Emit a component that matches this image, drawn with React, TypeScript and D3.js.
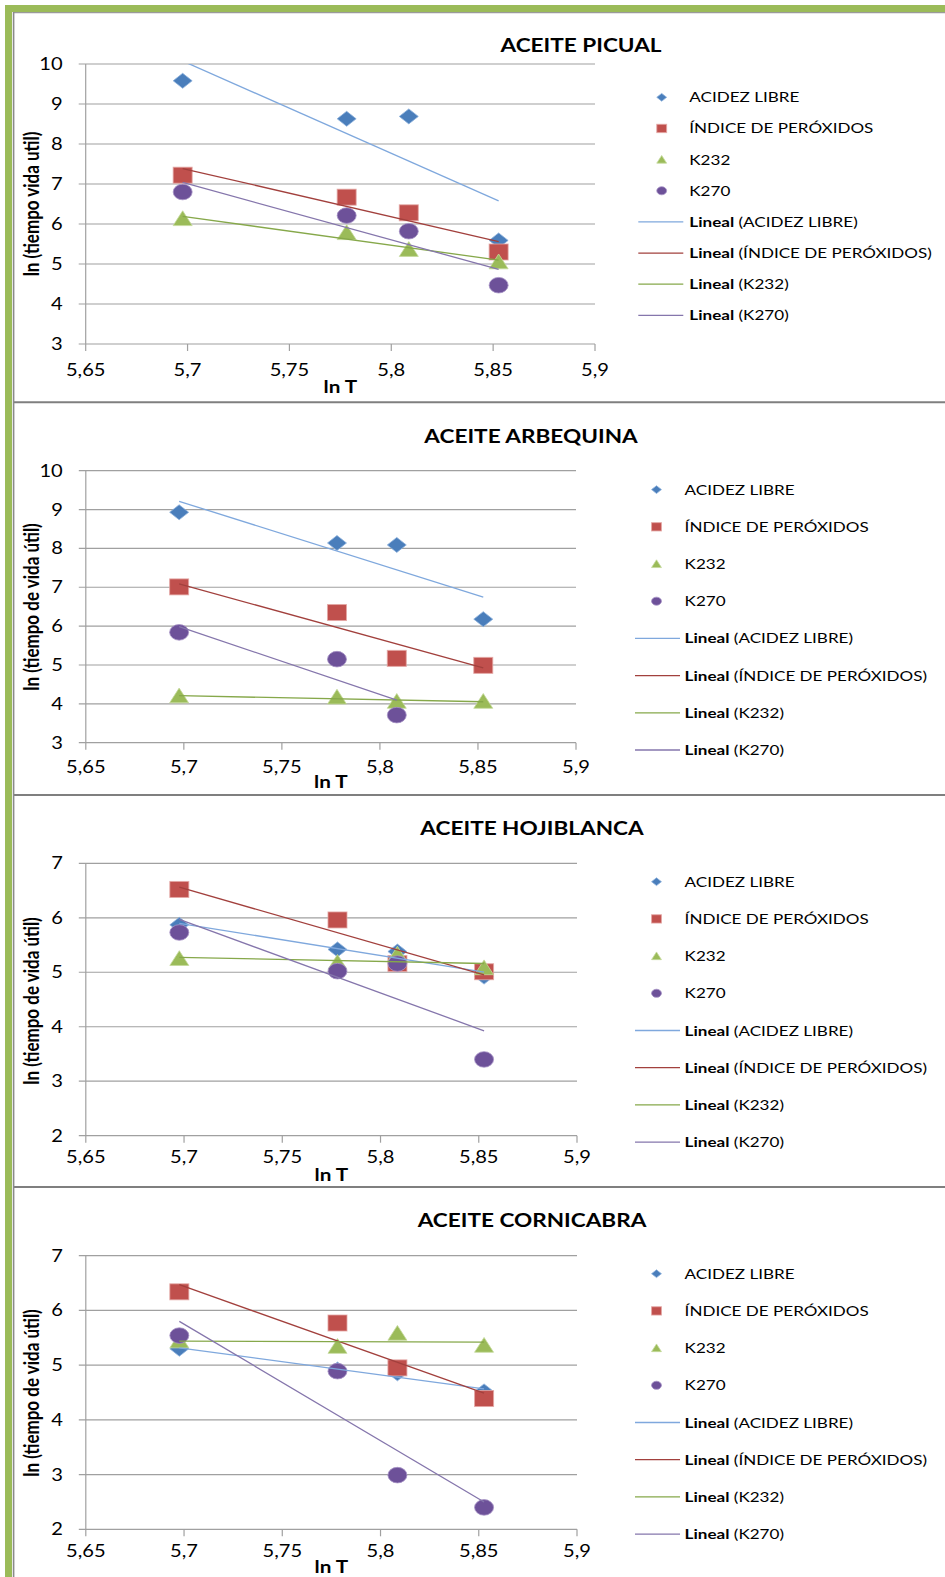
import React from "react";
import * as d3 from "d3";

// ln T (temperatures 25, 50, 60 and 75 °C in kelvin, log scale)
const LN_T = [5.6976, 5.7781, 5.8086, 5.8527];

const SERIES_NAMES = ["ACIDEZ LIBRE", "ÍNDICE DE PERÓXIDOS", "K232", "K270"];

// ln (shelf life) per oil and parameter, one value per ln T (null = no measure)
const PICUAL_ACIDEZ = [9.58, 8.63, 8.69, 5.59];
const PICUAL_PEROXIDOS = [7.22, 6.67, 6.28, 5.3];
const PICUAL_K232 = [6.13, 5.78, 5.36, 5.05];
const PICUAL_K270 = [6.8, 6.21, 5.82, 4.47];

const ARBEQUINA_ACIDEZ = [8.93, 8.14, 8.09, 6.18];
const ARBEQUINA_PEROXIDOS = [7.01, 6.35, 5.17, 4.99];
const ARBEQUINA_K232 = [4.2, 4.17, 4.06, 4.06];
const ARBEQUINA_K270 = [5.84, 5.15, 3.71, null];

const HOJIBLANCA_ACIDEZ = [5.87, 5.42, 5.38, 4.92];
const HOJIBLANCA_PEROXIDOS = [6.52, 5.96, 5.16, 5.01];
const HOJIBLANCA_K232 = [5.25, 5.18, 5.33, 5.08];
const HOJIBLANCA_K270 = [5.73, 5.02, 5.16, 3.4];

const CORNICABRA_ACIDEZ = [5.3, 4.92, 4.85, 4.52];
const CORNICABRA_PEROXIDOS = [6.34, 5.77, 4.95, 4.39];
const CORNICABRA_K232 = [5.44, 5.34, 5.58, 5.36];
const CORNICABRA_K270 = [5.54, 4.89, 2.99, 2.4];

const X_TICKS = [5.65, 5.7, 5.75, 5.8, 5.85, 5.9];

const OILS = [
  { title: "ACEITE PICUAL", yLabel: "ln (tiempo vida util)", yDomain: [3, 10],
    series: [PICUAL_ACIDEZ, PICUAL_PEROXIDOS, PICUAL_K232, PICUAL_K270] },
  { title: "ACEITE ARBEQUINA", yLabel: "ln (tiempo de vida útil)", yDomain: [3, 10],
    series: [ARBEQUINA_ACIDEZ, ARBEQUINA_PEROXIDOS, ARBEQUINA_K232, ARBEQUINA_K270] },
  { title: "ACEITE HOJIBLANCA", yLabel: "ln (tiempo de vida útil)", yDomain: [2, 7],
    series: [HOJIBLANCA_ACIDEZ, HOJIBLANCA_PEROXIDOS, HOJIBLANCA_K232, HOJIBLANCA_K270] },
  { title: "ACEITE CORNICABRA", yLabel: "ln (tiempo de vida útil)", yDomain: [2, 7],
    series: [CORNICABRA_ACIDEZ, CORNICABRA_PEROXIDOS, CORNICABRA_K232, CORNICABRA_K270] },
];

// Panel geometry
const LAYOUT = [
  { x0: 85.7, x1: 595, yTop: 64, yBot: 344, titleX: 581, titleY: 52, tickY: 376, lnTY: 393,
    yLabelY: 204, legX: 661.7, legTextX: 689.3, legLine: [638.3, 683.3], legY0: 97.3, legDy: 31.15 },
  { x0: 85.8, x1: 576, yTop: 470.7, yBot: 742.7, titleX: 531, titleY: 443, tickY: 772.7, lnTY: 788,
    yLabelY: 607, legX: 656.5, legTextX: 684.6, legLine: [635, 680], legY0: 489.6, legDy: 37.2 },
  { x0: 85.8, x1: 577, yTop: 863.3, yBot: 1135.7, titleX: 532, titleY: 835, tickY: 1163, lnTY: 1180.7,
    yLabelY: 1001, legX: 656.5, legTextX: 684.6, legLine: [635, 680], legY0: 881.7, legDy: 37.2 },
  { x0: 85.8, x1: 577, yTop: 1255.7, yBot: 1529.3, titleX: 532, titleY: 1227, tickY: 1556.7, lnTY: 1573,
    yLabelY: 1393, legX: 656.5, legTextX: 684.6, legLine: [635, 680], legY0: 1273.7, legDy: 37.2 },
];

const MARKER_FILL = ["#4A7EBB", "#C0504D", "#9BBB59", "#6D5199"];
const MARKER_EDGE = ["#8DB1DC", "#E3A6A4", "#C4DA9B", "#A692C6"];
const TREND_COLOR = ["#7FA8DD", "#A2403D", "#86A84A", "#8576AC"];
const GRID = "#A0A0A0";
const FONT = "Lato, 'Open Sans', sans-serif";
const SX = 1.22;

const esFormat = d3.formatLocale({ decimal: ",", thousands: ".", grouping: [3], currency: ["", "€"] }).format("~g");

// least-squares linear trendline over the measured points
function fit(xs: number[], ys: (number | null)[]) {
  const pts = xs.map((x, i) => [x, ys[i]] as [number, number | null]).filter((p) => p[1] != null) as [number, number][];
  const mx = d3.mean(pts, (p) => p[0])!;
  const my = d3.mean(pts, (p) => p[1])!;
  const sxy = d3.sum(pts, (p) => (p[0] - mx) * (p[1] - my));
  const sxx = d3.sum(pts, (p) => (p[0] - mx) ** 2);
  const slope = sxy / sxx;
  const xa = d3.min(pts, (p) => p[0])!;
  const xb = d3.max(pts, (p) => p[0])!;
  return [
    [xa, my + slope * (xa - mx)],
    [xb, my + slope * (xb - mx)],
  ] as [number, number][];
}

function Marker({ kind, x, y, s = 1 }: { kind: number; x: number; y: number; s?: number }) {
  const fill = MARKER_FILL[kind];
  const edge = MARKER_EDGE[kind];
  const common = { fill, stroke: edge, strokeWidth: 1, strokeOpacity: 0.8 };
  if (kind === 0) {
    const w = 9.5 * s, h = 7.5 * s;
    return <path d={`M${x},${y - h}L${x + w},${y}L${x},${y + h}L${x - w},${y}Z`} {...common} />;
  }
  if (kind === 1) {
    const w = 9.5 * s, h = 8 * s;
    return <rect x={x - w} y={y - h} width={2 * w} height={2 * h} {...common} />;
  }
  if (kind === 2) {
    const w = 9.5 * s, h = 8 * s;
    return <path d={`M${x},${y - h}L${x + w},${y + h * 0.85}L${x - w},${y + h * 0.85}Z`} {...common} />;
  }
  return <ellipse cx={x} cy={y} rx={9.5 * s} ry={7.8 * s} {...common} />;
}

function SText({ x, y, size, weight = 400, anchor = "start", rotate = false, children }: any) {
  const t = rotate ? `translate(${x},${y}) scale(${SX},1) rotate(-90)` : `translate(${x},${y}) scale(${SX},1)`;
  return (
    <text transform={t} fontFamily={FONT} fontSize={size} fontWeight={weight} textAnchor={anchor} fill="#000">
      {children}
    </text>
  );
}

function Panel({ oil, lay, idx }: { oil: any; lay: any; idx: number }) {
  const x = d3.scaleLinear().domain([5.65, 5.9]).range([lay.x0, lay.x1]);
  const y = d3.scaleLinear().domain(oil.yDomain).range([lay.yBot, lay.yTop]);
  const yTicks = d3.range(oil.yDomain[0], oil.yDomain[1] + 1, 1);
  const clipId = `plot-clip-${idx}`;
  const line = d3.line<[number, number]>().x((d) => x(d[0])).y((d) => y(d[1]));
  return (
    <g>
      <defs>
        <clipPath id={clipId}>
          <rect x={lay.x0} y={lay.yTop} width={lay.x1 - lay.x0} height={lay.yBot - lay.yTop} />
        </clipPath>
      </defs>
      {/* gridlines and axes */}
      {yTicks.map((t: number) => (
        <g key={`g${t}`}>
          <line x1={lay.x0 - 7} x2={lay.x1} y1={y(t)} y2={y(t)} stroke={GRID} strokeWidth={1.2} />
          <SText x={lay.x0 - 23} y={y(t) + 6} size={16.5} anchor="end">{String(t)}</SText>
        </g>
      ))}
      <line x1={lay.x0} x2={lay.x0} y1={lay.yTop} y2={lay.yBot} stroke={GRID} strokeWidth={1.2} />
      {X_TICKS.map((t) => (
        <g key={`x${t}`}>
          <line x1={x(t)} x2={x(t)} y1={lay.yBot} y2={lay.yBot + 7} stroke={GRID} strokeWidth={1.2} />
          <SText x={x(t)} y={lay.tickY} size={16.5} anchor="middle">{esFormat(t)}</SText>
        </g>
      ))}
      {/* markers */}
      {oil.series.map((vals: (number | null)[], si: number) =>
        vals.map((v, i) => (v == null ? null : <Marker key={`m${si}-${i}`} kind={si} x={x(LN_T[i])} y={y(v)} />))
      )}
      {/* linear trendlines */}
      <g clipPath={`url(#${clipId})`}>
        {oil.series.map((vals: (number | null)[], si: number) => (
          <path key={`t${si}`} d={line(fit(LN_T, vals))!} stroke={TREND_COLOR[si]} strokeWidth={1.3} fill="none" />
        ))}
      </g>
      {/* titles */}
      <SText x={lay.titleX} y={lay.titleY} size={18.5} weight={700} anchor="middle">{oil.title}</SText>
      <SText x={(lay.x0 + lay.x1) / 2} y={lay.lnTY} size={17} weight={700} anchor="middle">ln T</SText>
      <SText x={38.5} y={lay.yLabelY} size={17} weight={700} anchor="middle" rotate>{oil.yLabel}</SText>
      {/* legend */}
      {SERIES_NAMES.map((name, si) => {
        const ry = lay.legY0 + si * lay.legDy;
        return (
          <g key={`l${si}`}>
            <Marker kind={si} x={lay.legX} y={ry} s={0.52} />
            <SText x={lay.legTextX} y={ry + 5} size={14}>{name}</SText>
          </g>
        );
      })}
      {SERIES_NAMES.map((name, si) => {
        const ry = lay.legY0 + (si + 4) * lay.legDy;
        return (
          <g key={`lt${si}`}>
            <line x1={lay.legLine[0]} x2={lay.legLine[1]} y1={ry} y2={ry} stroke={TREND_COLOR[si]} strokeWidth={1.3} />
            <SText x={lay.legTextX} y={ry + 5} size={14}>
              <tspan fontWeight={700}>Lineal</tspan>
              <tspan> ({name})</tspan>
            </SText>
          </g>
        );
      })}
    </g>
  );
}

export default function App() {
  const W = 945, H = 1577;
  const separators = [402.3, 795, 1187];
  return (
    <svg width={W} height={H} style={{ position: "absolute", left: 0, top: 0, background: "#fff" }}>
      <rect width={W} height={H} fill="#fff" />
      {OILS.map((oil, i) => (
        <Panel key={oil.title} oil={oil} lay={LAYOUT[i]} idx={i} />
      ))}
      {/* frame */}
      {separators.map((sy) => (
        <line key={sy} x1={13} x2={W} y1={sy} y2={sy} stroke="#7F7F7F" strokeWidth={2} />
      ))}
      <line x1={13} x2={W} y1={12.6} y2={12.6} stroke="#9A9A9A" strokeWidth={1.2} />
      <line x1={13.6} x2={13.6} y1={12} y2={H} stroke="#8A8A8A" strokeWidth={1.6} />
      <rect x={5} y={5} width={W - 5} height={7} fill="#9BBB59" />
      <rect x={5} y={5} width={7} height={H - 5} fill="#9BBB59" />
    </svg>
  );
}
